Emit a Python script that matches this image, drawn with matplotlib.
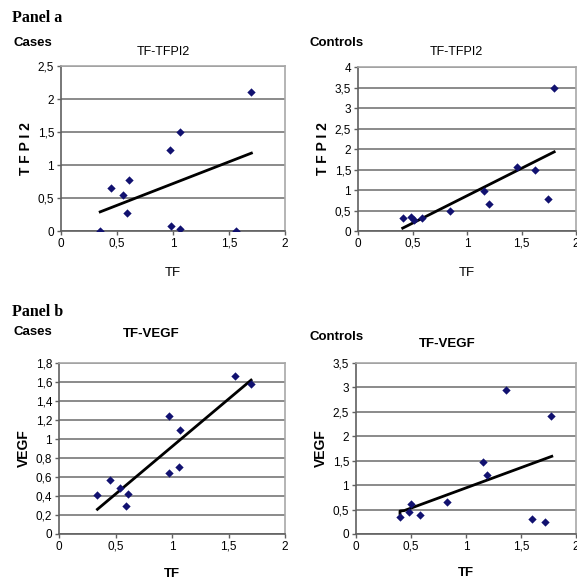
import numpy as np
import matplotlib.pyplot as plt
from matplotlib.ticker import FuncFormatter, MultipleLocator

plt.rcParams['font.family'] = ['Liberation Sans', 'DejaVu Sans']

# Panel a, cases: TF vs TFPI2
cases_tf = [0.35, 0.45, 0.55, 0.59, 0.61, 0.97, 0.98, 1.06, 1.06, 1.56, 1.70]
cases_tfpi2 = [0.0, 0.65, 0.55, 0.27, 0.78, 1.23, 0.08, 1.50, 0.03, 0.0, 2.11]
cases_tfpi2_trend_x = [0.35, 1.70]
cases_tfpi2_trend_y = [0.29, 1.18]

# Panel a, controls: TF vs TFPI2
ctrl_tf_a = [0.41, 0.49, 0.51, 0.59, 0.84, 1.16, 1.20, 1.46, 1.62, 1.74, 1.80]
ctrl_tfpi2 = [0.31, 0.35, 0.28, 0.32, 0.49, 0.98, 0.66, 1.57, 1.48, 0.77, 3.49]
ctrl_tfpi2_trend_x = [0.41, 1.80]
ctrl_tfpi2_trend_y = [0.07, 1.93]

# Panel b, cases: TF vs VEGF
cases_tf_b = [0.34, 0.45, 0.54, 0.59, 0.61, 0.97, 0.97, 1.07, 1.06, 1.56, 1.70]
cases_vegf = [0.41, 0.57, 0.48, 0.30, 0.42, 1.24, 0.64, 1.10, 0.71, 1.66, 1.58]
cases_vegf_trend_x = [0.34, 1.70]
cases_vegf_trend_y = [0.26, 1.62]

# Panel b, controls: TF vs VEGF
ctrl_tf_b = [0.40, 0.48, 0.50, 0.58, 0.83, 1.15, 1.19, 1.36, 1.60, 1.72, 1.77]
ctrl_vegf = [0.34, 0.45, 0.61, 0.39, 0.65, 1.47, 1.20, 2.95, 0.31, 0.25, 2.41]
ctrl_vegf_trend_x = [0.40, 0.40, 0.44, 1.78]
ctrl_vegf_trend_y = [0.42, 0.47, 0.48, 1.59]

W, H = 577, 581
fig = plt.figure(figsize=(W / 100, H / 100), dpi=100)


def px_axes(left, right, top, bottom):
    return fig.add_axes([left / W, 1 - bottom / H, (right - left) / W, (bottom - top) / H])


def px_text(x, y, s, **kw):
    kw.setdefault('va', 'center')
    return fig.text(x / W, 1 - y / H, s, **kw)


comma = FuncFormatter(lambda v, p: ('%g' % v).replace('.', ','))


def style(ax, ymax, ystep, ylabel, bold, xlabpad):
    ax.set_xlim(0, 2)
    ax.set_ylim(0, ymax)
    ax.xaxis.set_major_locator(MultipleLocator(0.5))
    ax.yaxis.set_major_locator(MultipleLocator(ystep))
    ax.xaxis.set_major_formatter(comma)
    ax.yaxis.set_major_formatter(comma)
    ax.yaxis.grid(True, color='#8a8a8a', lw=1.4)
    ax.set_axisbelow(True)
    for s in ['top', 'right']:
        ax.spines[s].set_color('#a8a8a8')
        ax.spines[s].set_linewidth(1.2)
    for s in ['left', 'bottom']:
        ax.spines[s].set_color('#606060')
        ax.spines[s].set_linewidth(1.2)
    ax.tick_params(direction='out', length=3, width=1, color='#606060',
                   labelsize=8.5, pad=2)
    w = 'bold' if bold else 'normal'
    ax.set_ylabel(ylabel, fontsize=10, fontweight='bold', labelpad=3)
    ax.set_xlabel('TF', fontsize=9.5, fontweight=w, labelpad=xlabpad)


def scatter(ax, x, y, tx, ty):
    ax.plot(tx, ty, '-', color='black', lw=2, zorder=3)
    ax.scatter(x, y, marker='D', s=18, color='#111170', zorder=4, linewidths=0)


ax1 = px_axes(61, 285, 66, 231)
scatter(ax1, cases_tf, cases_tfpi2, cases_tfpi2_trend_x, cases_tfpi2_trend_y)
style(ax1, 2.5, 0.5, 'T F P I 2', False, 12)

ax2 = px_axes(358, 576, 67, 231)
scatter(ax2, ctrl_tf_a, ctrl_tfpi2, ctrl_tfpi2_trend_x, ctrl_tfpi2_trend_y)
style(ax2, 4, 0.5, 'T F P I 2', False, 12)

ax3 = px_axes(59, 285, 363, 534)
scatter(ax3, cases_tf_b, cases_vegf, cases_vegf_trend_x, cases_vegf_trend_y)
style(ax3, 1.8, 0.2, 'VEGF', True, 10.5)

ax4 = px_axes(356, 576, 363, 534)
scatter(ax4, ctrl_tf_b, ctrl_vegf, ctrl_vegf_trend_x, ctrl_vegf_trend_y)
style(ax4, 3.5, 0.5, 'VEGF', True, 10)

# chart titles (Excel centres them on the chart area, not the plot area)
px_text(163, 52, 'TF-TFPI2', fontsize=9, ha='center')
px_text(456, 52, 'TF-TFPI2', fontsize=9, ha='center')
px_text(151, 334, 'TF-VEGF', fontsize=9.5, fontweight='bold', ha='center')
px_text(447, 344, 'TF-VEGF', fontsize=9.5, fontweight='bold', ha='center')

serif = ['Liberation Serif', 'DejaVu Serif']
narrow = ['Liberation Sans Narrow', 'Liberation Sans', 'DejaVu Sans']
px_text(12, 18, 'Panel a', family=serif, fontsize=11.5, fontweight='bold')
px_text(13, 43, 'Cases', family=narrow, fontsize=9.5, fontweight='bold')
px_text(310, 43, 'Controls', family=narrow, fontsize=9.5, fontweight='bold')
px_text(12, 312, 'Panel b', family=serif, fontsize=11.5, fontweight='bold')
px_text(13, 332, 'Cases', family=narrow, fontsize=9.5, fontweight='bold')
px_text(310, 337, 'Controls', family=narrow, fontsize=9.5, fontweight='bold')

fig.savefig('out.png', dpi=100)
